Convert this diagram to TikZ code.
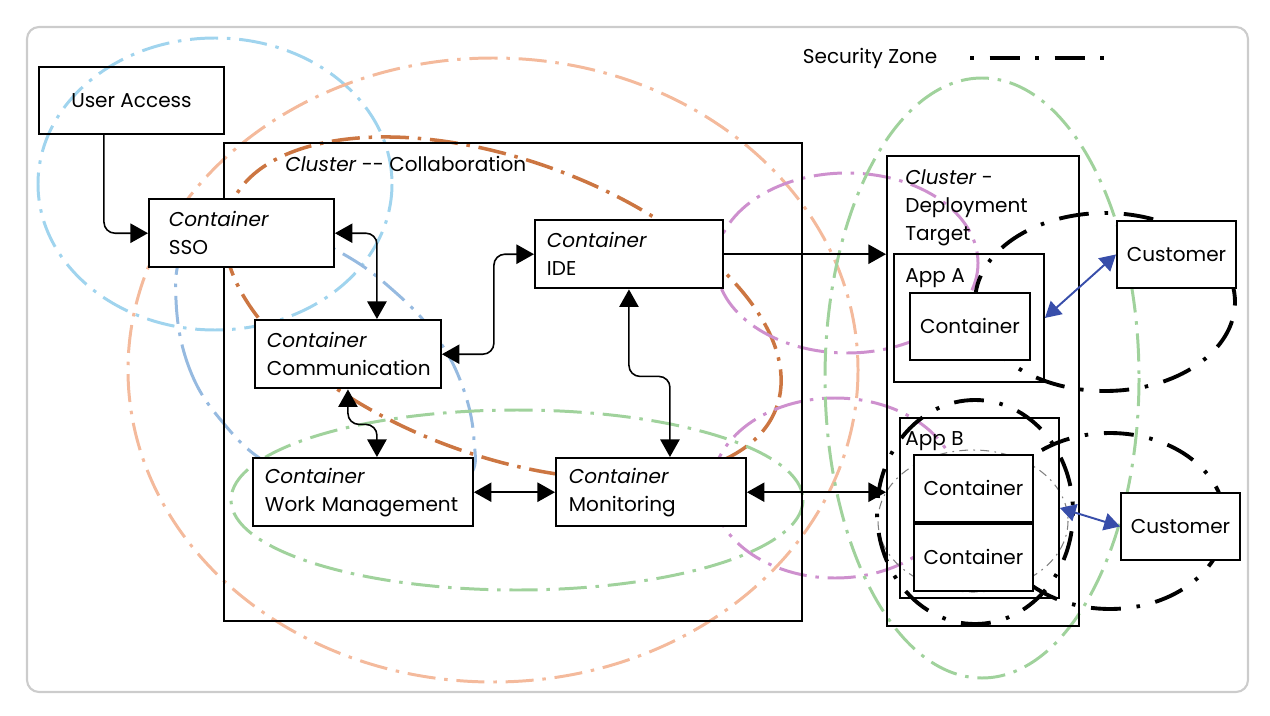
\documentclass[tikz,border=0pt]{standalone}
\usepackage{fontspec}
\setmainfont{Poppins}
\usetikzlibrary{arrows.meta,positioning}

\definecolor{skyblue}{RGB}{160,212,238}
\definecolor{peach}{RGB}{244,186,156}
\definecolor{rust}{RGB}{204,118,66}
\definecolor{steel}{RGB}{150,186,224}
\definecolor{mint}{RGB}{160,210,156}
\definecolor{orchid}{RGB}{206,144,206}
\definecolor{linkblue}{RGB}{56,78,170}

\begin{document}
\begin{tikzpicture}[x=0.02cm, y=-0.02cm,
  font=\fontsize{11.4}{16}\selectfont,
  box/.style={draw, line width=1.1pt, anchor=north west, inner sep=0pt},
  cbox/.style={box, fill=white},
  twoline/.style={cbox, align=left, minimum height=1.37cm},
  halo/.style={line width=1.7pt, dash pattern=on 16pt off 5pt on 2pt off 5pt},
  zone/.style={line width=2.2pt, dash pattern=on 2pt off 9pt on 17pt off 9pt},
  arr/.style={line width=0.9pt, rounded corners=0.22cm,
    {Triangle[length=10pt,width=11pt]}-{Triangle[length=10pt,width=11pt]}},
  onearr/.style={line width=0.9pt, rounded corners=0.22cm, -{Triangle[length=10pt,width=11pt]}},
  barr/.style={linkblue, line width=1.1pt,
    {Triangle[length=9pt,width=10pt]}-{Triangle[length=9pt,width=10pt]}}]
\useasboundingbox (0,0) rectangle (1270,716);
\draw[black!20, line width=1.2pt, rounded corners=0.24cm] (27,27) rectangle (1248,692);

% zones
\draw[skyblue, halo] (215,184) ellipse [x radius=177, y radius=146];
\draw[peach, halo] (493,370) ellipse [x radius=365, y radius=312];
\draw[rust, halo, line width=2pt, rotate around={-20:(503,308)}] (503,308) ellipse [x radius=291, y radius=148];
\draw[steel, halo] plot[smooth cycle, tension=0.7] coordinates {(176,300) (190,370) (225,425) (270,465) (340,498) (420,505) (468,478) (474,440) (462,385) (435,335) (395,292) (345,255) (290,232) (225,228) (185,250)};
\draw[mint, halo] (517,500) ellipse [x radius=286, y radius=90];
\draw[orchid, halo] (847,263) ellipse [x radius=131, y radius=90];
\draw[orchid, halo] (835,488) ellipse [x radius=123, y radius=90];
\draw[mint, halo] (982,378) ellipse [x radius=157, y radius=300];
\draw[gray, line width=0.6pt, dash pattern=on 5pt off 3pt on 1pt off 3pt] (973,521) ellipse [x radius=95, y radius=71];
\draw[zone] (1105,302) ellipse [x radius=130, y radius=89];
\draw[zone] (975,512) ellipse [x radius=98, y radius=112];
\draw[zone] (1110,521) ellipse [x radius=115, y radius=88];

% boxes
\node[box, minimum width=3.70cm, minimum height=1.34cm] (user) at (38,66) {User Access};
\node[box, minimum width=11.56cm, minimum height=9.56cm] (collab) at (223,142) {};
\node[anchor=base west, inner sep=0pt] (collabtitle) at ([xshift=1.24cm, yshift=-0.6cm]collab.north west) {\textit{Cluster} -\kern0pt- Collaboration};
\node[twoline, text width=2.90cm, inner xsep=0.40cm] (sso) at (148,198) {\textit{Container}\\SSO};
\node[twoline, text width=3.24cm, inner xsep=0.24cm] (comm) at (254,319) {\textit{Container}\\Communication};
\node[twoline, text width=3.28cm, inner xsep=0.24cm] (ide) at (534,219) {\textit{Container}\\IDE};
\node[twoline, text width=3.92cm, inner xsep=0.24cm] (wm) at (252,457) {\textit{Container}\\\mbox{Work Management}};
\node[twoline, text width=3.28cm, inner xsep=0.26cm] (mon) at (555,457) {\textit{Container}\\Monitoring};

\node[box, minimum width=3.84cm, minimum height=9.40cm] (deploy) at (886,155) {};
\node[anchor=north west, inner sep=0pt, align=left] (deploytitle) at ([xshift=0.38cm, yshift=-0.28cm]deploy.north west) {\textit{Cluster}~-\\Deployment\\Target};
\node[box, minimum width=3.00cm, minimum height=2.56cm] (appa) at (893,253) {};
\node[anchor=base west, inner sep=0pt] (appatitle) at ([xshift=0.24cm, yshift=-0.6cm]appa.north west) {App A};
\node[cbox, minimum width=2.40cm, minimum height=1.34cm] (conta) at (909,292) {Container};
\node[box, minimum width=3.18cm, minimum height=3.60cm] (appb) at (899,417) {};
\node[anchor=base west, inner sep=0pt] (appbtitle) at ([xshift=0.12cm, yshift=-0.58cm]appb.north west) {App B};
\node[cbox, minimum width=2.38cm, minimum height=1.34cm] (contb) at (913,454) {Container};
\node[cbox, minimum width=2.38cm, minimum height=1.34cm, below=0pt of contb] (contc) {Container};
\node[cbox, minimum width=2.38cm, minimum height=1.34cm] (cust1) at (1116,220) {Customer};
\node[cbox, minimum width=2.38cm, minimum height=1.34cm] (cust2) at (1120,492) {Customer};

% legend
\node (zonetext) at (870,58) {Security Zone};
\draw[zone] ([xshift=0.54cm]zonetext.east) -- ++(140,0);

% links
\draw[onearr] ([xshift=-0.55cm]user.south) |- (sso.west);
\draw[arr] (sso.east) -| ([xshift=0.58cm]comm.north);
\draw[arr] (comm.east) -- ++(52,0) |- (ide.west);
\draw[arr] (ide.south) -- ++(0,87) -| ([xshift=0.38cm]mon.north);
\draw[arr] (comm.south) -- ++(0,35) -| ([xshift=0.28cm]wm.north);
\draw[arr] (wm.east) -- (mon.west);
\draw[arr] (mon.east) -- (mon.east -| deploy.west);
\draw[onearr] (ide.east) -- (ide.east -| deploy.west);
\draw[barr] (appa.east) -- (cust1.west);
\draw[barr] (appb.east) -- (cust2.west);
\end{tikzpicture}
\end{document}
